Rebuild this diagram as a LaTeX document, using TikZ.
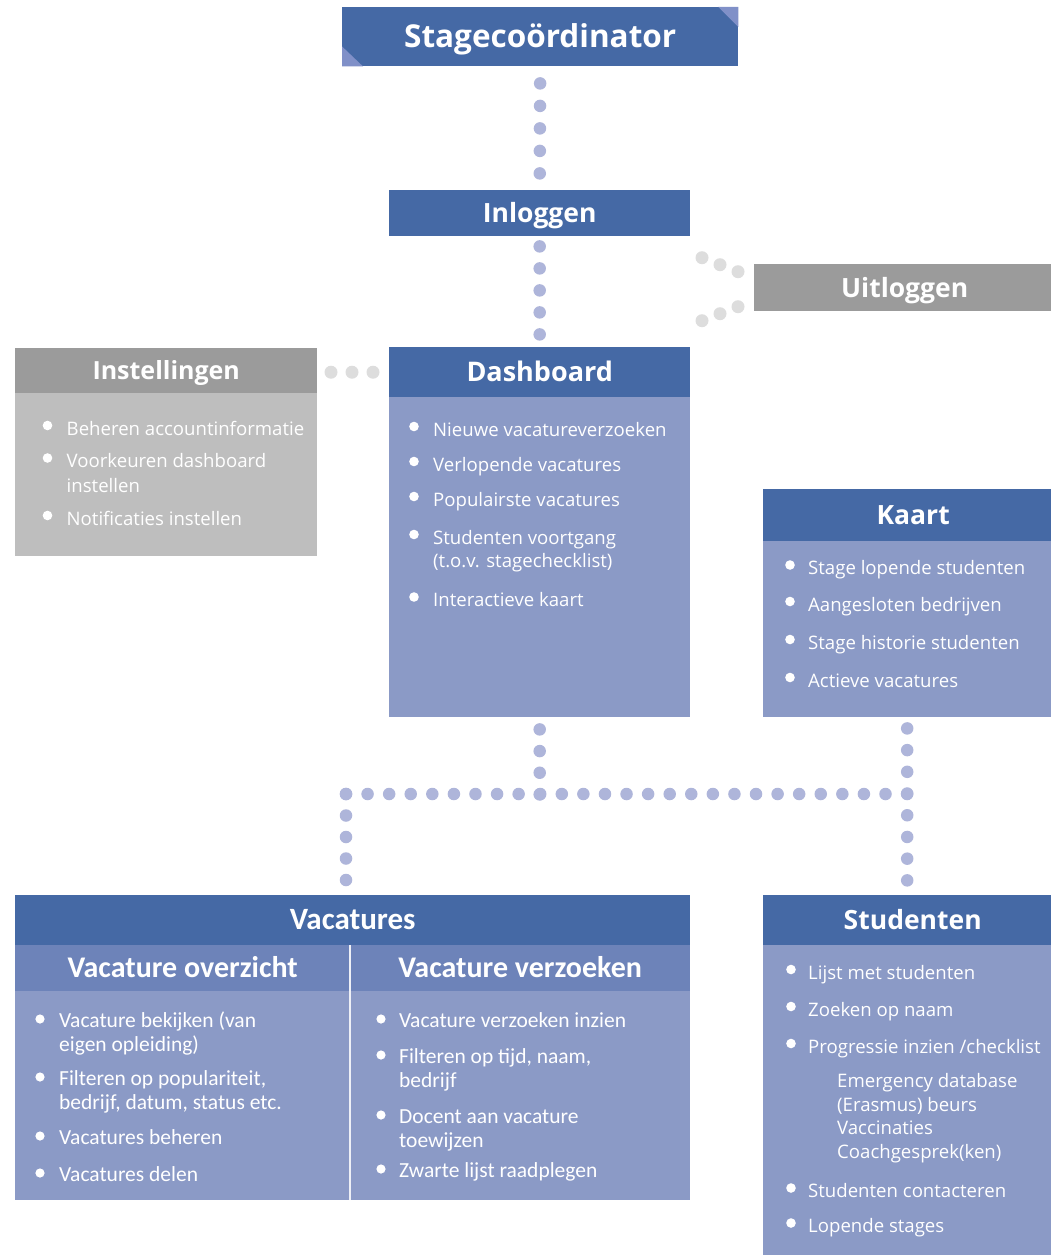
\documentclass[tikz,border=0pt]{standalone}
\usepackage{fontspec}
\setmainfont{Open Sans}
\newfontfamily\calfont{Carlito}
\usetikzlibrary{calc}
\definecolor{hblue}{HTML}{4569A5}
\definecolor{lav}{HTML}{8B9AC6}
\definecolor{subl}{HTML}{6D83B9}
\definecolor{ghdr}{HTML}{9B9B9B}
\definecolor{gbody}{HTML}{BEBEBE}
\definecolor{dotl}{HTML}{AEB5DA}
\definecolor{dotg}{HTML}{DDDDDD}
\definecolor{tri}{HTML}{8090C8}
\newcommand\bitem[5]{%
  \fill[white] (#2,#4-9.5) circle (4.8pt);
  \node[itm,anchor=base west] (#1) at (#3,#4) {#5};}
\newcommand\citem[5]{%
  \fill[white] (#2,#4-8) circle (4.6pt);
  \node[citm,anchor=base west] (#1) at (#3,#4) {#5};}
\begin{document}
\begin{tikzpicture}[x=1pt,y=-1pt,
  box/.style={rectangle, inner sep=0pt, anchor=north west, draw=none},
  hdr/.style={box, fill=hblue, text=white, font=\fontsize{26.5}{30}\bfseries\selectfont, text height=19pt, text depth=0pt},
  ghd/.style={hdr, fill=ghdr},
  body/.style={box, fill=lav},
  gbd/.style={box, fill=gbody},
  sub/.style={box, fill=subl, text=white, font=\fontsize{30}{34}\calfont\bfseries\selectfont, text height=19pt, text depth=0pt},
  itm/.style={inner sep=0pt, text=white, font=\fontsize{18.6}{22}\selectfont},
  citm/.style={inner sep=0pt, text=white, font=\fontsize{21.5}{25}\calfont\selectfont},
  ldots/.style={draw=dotl, line width=12.5pt, line cap=round},
  gdots/.style={draw=dotg, line width=13pt, line cap=round}]
\useasboundingbox (0,0) rectangle (1051,1255);
\fill[white] (0,0) rectangle (1051,1255);

% Stagecoordinator
\node[hdr, minimum width=396pt, minimum height=59pt, font=\fontsize{31.5}{34}\bfseries\selectfont, text height=22.5pt] (stage) at (342,7) {Stagecoördinator};
\fill[tri] (stage.north east) -- ++(-20,0) -- ++(20,20) -- cycle;
\fill[tri] (stage.south west) -- ++(0,-20) -- ++(21,20) -- cycle;

% Inloggen / Uitloggen
\node[hdr, minimum width=301pt, minimum height=46pt] (inlog) at (389,190) {Inloggen};
\node[ghd, minimum width=297pt, minimum height=47pt, text width=297pt, align=center] (uit) at (754,264) {\hspace*{4pt}Uitloggen};

% Dashboard
\node[hdr, minimum width=301pt, minimum height=50pt, font=\fontsize{27}{30}\bfseries\selectfont, text height=19.5pt] (dashH) at (389,347) {Dashboard};
\node[body, minimum width=301pt, minimum height=320pt] (dashB) at (389,397) {};
\bitem{d1}{414}{433}{436}{Nieuwe vacatureverzoeken}
\bitem{d2}{414}{433}{471}{Verlopende vacatures}
\bitem{d3}{414}{433}{506}{Populairste vacatures}
\bitem{d4}{414}{433}{544}{Studenten voortgang}
\node[itm,anchor=base west] (d4b) at (433,567.5) {(t.o.v. stagechecklist)};
\bitem{d5}{414}{433}{606.5}{Interactieve kaart}

% Instellingen
\node[ghd, minimum width=302pt, minimum height=45pt, font=\fontsize{25}{30}\bfseries\selectfont, text height=18pt] (instH) at (15,348) {Instellingen};
\node[gbd, minimum width=302pt, minimum height=163pt] (instB) at (15,393) {};
\bitem{i1}{47.5}{66.5}{435}{Beheren accountinformatie}
\bitem{i2}{47.5}{66.5}{467.5}{Voorkeuren dashboard}
\node[itm,anchor=base west] (i2b) at (66.5,492) {instellen};
\bitem{i3}{47.5}{66.5}{525}{Notificaties instellen}

% Kaart
\node[hdr, minimum width=288pt, minimum height=52pt, text width=288pt, align=center] (kaartH) at (763,489) {\hspace*{12pt}Kaart};
\node[body, minimum width=288pt, minimum height=176pt] (kaartB) at (763,541) {};
\bitem{k1}{790}{808}{574.5}{Stage lopende studenten}
\bitem{k2}{790}{808}{611}{Aangesloten bedrijven}
\bitem{k3}{790}{808}{649}{Stage historie studenten}
\bitem{k4}{790}{808}{687}{Actieve vacatures}

% Vacatures
\node[hdr, minimum width=675pt, minimum height=50pt, font=\fontsize{31}{34}\calfont\bfseries\selectfont, text height=19.5pt] (vacH) at (15,895) {Vacatures};
\node[sub, minimum width=335pt, minimum height=46pt] (vacS1) at (15,945) {Vacature overzicht};
\node[sub, minimum width=340pt, minimum height=46pt] (vacS2) at (350,945) {Vacature verzoeken};
\node[body, minimum width=675pt, minimum height=209pt] (vacB) at (15,991) {};
\draw[white!85!lav, line width=1.5pt] (vacS2.north west) -- (vacS2.north west |- vacB.south);
\citem{v1}{40}{59}{1027}{Vacature bekijken (van}
\node[citm,anchor=base west] (v1b) at (59,1051) {eigen opleiding)};
\citem{v2}{40}{59}{1085}{Filteren op populariteit,}
\node[citm,anchor=base west] (v2b) at (59,1109) {bedrijf, datum, status etc.};
\citem{v3}{40}{59}{1144}{Vacatures beheren}
\citem{v4}{40}{59}{1181}{Vacatures delen}
\citem{w1}{381}{399}{1027}{Vacature verzoeken inzien}
\citem{w2}{381}{399}{1063}{Filteren op tijd, naam,}
\node[citm,anchor=base west] (w2b) at (399,1087) {bedrijf};
\citem{w3}{381}{399}{1123}{Docent aan vacature}
\node[citm,anchor=base west] (w3b) at (399,1147) {toewijzen};
\citem{w4}{381}{399}{1177}{Zwarte lijst raadplegen}

% Studenten
\node[hdr, minimum width=288pt, minimum height=50pt, text width=288pt, align=center] (studH) at (763,895) {\hspace*{11pt}Studenten};
\node[body, minimum width=288pt, minimum height=310pt] (studB) at (763,945) {};
\bitem{s1}{791}{808}{979}{Lijst met studenten}
\bitem{s2}{791}{808}{1016}{Zoeken op naam}
\bitem{s3}{791}{808}{1053}{Progressie inzien /checklist}
\node[itm,anchor=base west] (s3a) at (837,1087.5) {Emergency database};
\node[itm,anchor=base west] (s3b) at (837,1111) {(Erasmus) beurs};
\node[itm,anchor=base west] (s3c) at (837,1134.5) {Vaccinaties};
\node[itm,anchor=base west] (s3d) at (837,1158.5) {Coachgesprek(ken)};
\bitem{s4}{791}{808}{1197.5}{Studenten contacteren}
\bitem{s5}{791}{808}{1232.5}{Lopende stages}

% Connectors (paths run 3pt past the last dot so that it is drawn)
\coordinate (j1) at (dashB.south |- 0,794);
\coordinate (jl) at (346,794);
\coordinate (jr) at (kaartB.south |- 0,794);
\draw[ldots, dash pattern=on 0pt off 22.5pt, shorten <=17pt, shorten >=14pt] (stage.south) -- (inlog.north);
\draw[ldots, dash pattern=on 0pt off 22pt, shorten <=10pt, shorten >=10pt] (inlog.south) -- (dashH.north);
\draw[ldots, dash pattern=on 0pt off 21.67pt, shorten <=12pt] (dashB.south) -- ($(j1)+(0,3)$);
\draw[ldots, dash pattern=on 0pt off 21.58pt] (jl) -- ($(jr)+(3,0)$);
\draw[ldots, dash pattern=on 0pt off 21.5pt, shorten >=12pt] (jl) -- (jl |- vacH.north);
\draw[ldots, dash pattern=on 0pt off 21.71pt, shorten <=11pt, shorten >=12pt] (kaartB.south) -- (studH.north);
\draw[gdots, dash pattern=on 0pt off 21pt, shorten <=16pt, shorten >=11pt] (dashH.west) -- (dashH.west -| instH.east);
\foreach \dx/\dy in {-52/-30,-34/-23,-16/-16,-16/19,-34/26,-52/33}
  \fill[dotg] ($(uit.west)+(\dx,\dy)$) circle (6.5pt);
\end{tikzpicture}
\end{document}
